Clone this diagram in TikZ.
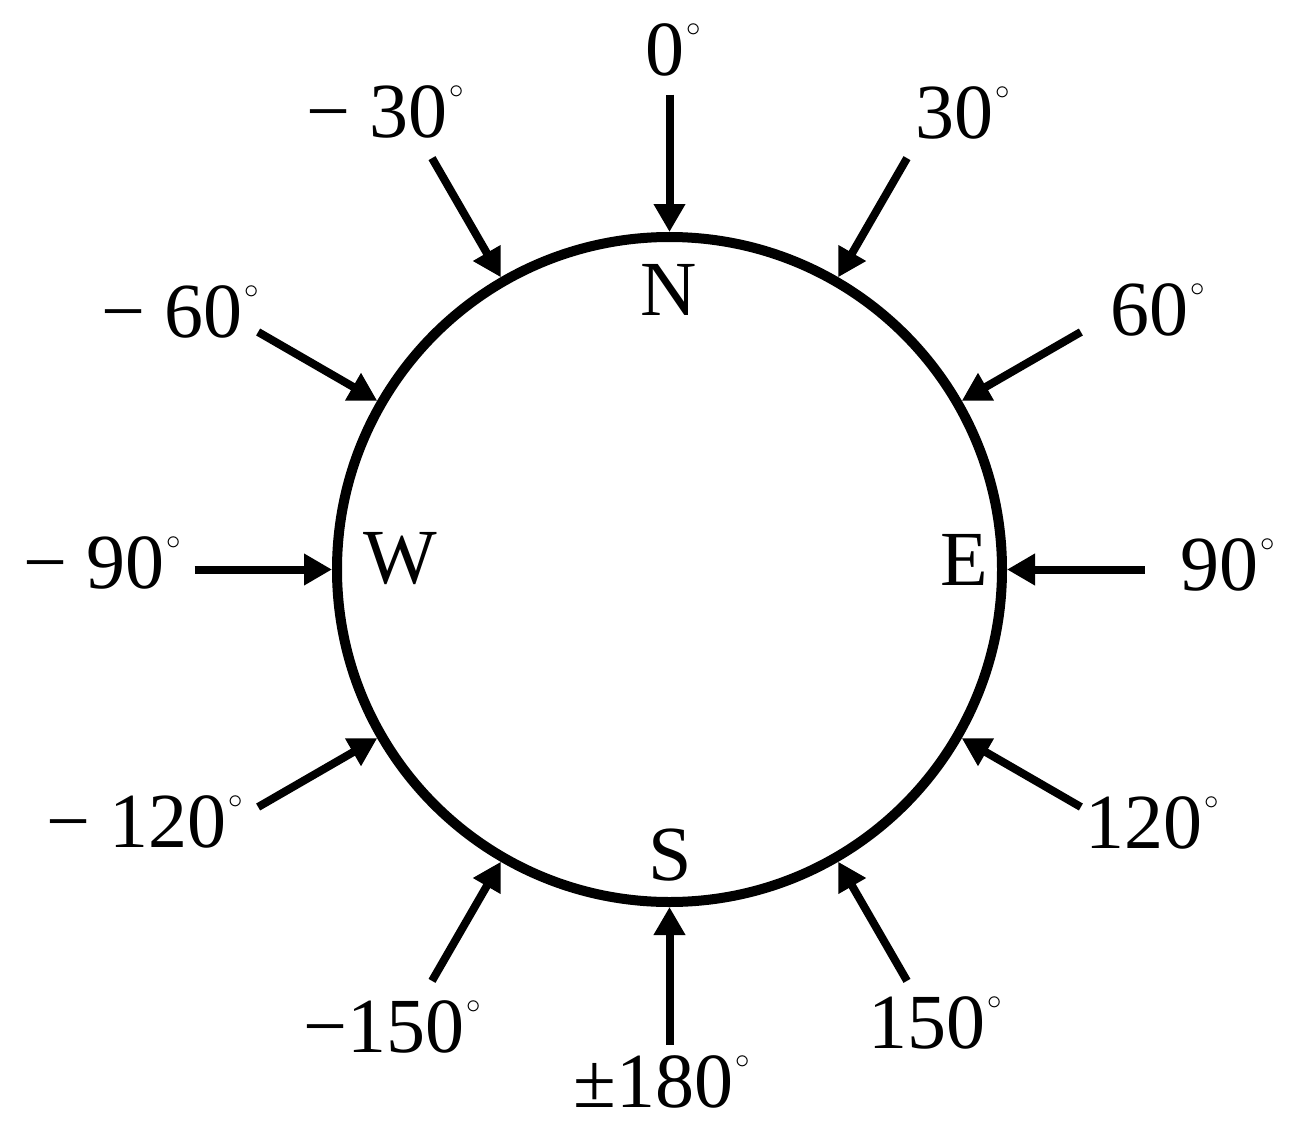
\documentclass[tikz,border=0pt]{standalone}
\usepackage{fontspec}
\setmainfont{Liberation Serif}
\usetikzlibrary{arrows.meta}
\newcommand\dg{\kern1pt\raisebox{0.5em}{\fontsize{14}{14}\selectfont$\circ$}}
\begin{document}
\begin{tikzpicture}[x=0.5pt,y=-0.5pt,
  lbl/.style={anchor=base west,inner sep=0pt,font=\fontsize{39}{46}\selectfont},
  ring/.style={circle,draw,line width=5pt,minimum size=332.5pt,inner sep=0pt},
  arr/.style={line width=4pt,-{Triangle[length=14pt,width=15pt]}}]
\useasboundingbox (0,0) rectangle (1296,1140);
\node[ring] (c) at (669.5,569.5) {};
% arrows (compass angle clockwise from north)
\foreach \n/\a in {a0/0,a30/30,a60/60,a90/90,a120/120,a150/150,a180/180,am150/-150,am120/-120,am90/-90,am60/-60,am30/-30}{
  \coordinate (\n) at ([shift={({90-\a}:237.5pt)}]c.center);
  \draw[arr] (\n) -- (c.{90-\a});
}
% labels
\node[lbl] (l0)    at (645,75)   {0\dg};
\node[lbl] (l30)   at (915,138)  {30\dg};
\node[lbl] (l60)   at (1110,335) {60\dg};
\node[lbl] (l90)   at (1180,590) {90\dg};
\node[lbl] (l120)  at (1085,848) {120\dg};
\node[lbl] (l150)  at (868,1048) {150\dg};
\node[lbl] (l180)  at (573,1107) {±180\dg};
\node[lbl] (lm150) at (303,1052) {−150\dg};
\node[lbl] (lm120) at (46,847)   {− 120\dg};
\node[lbl] (lm90)  at (23,588)   {− 90\dg};
\node[lbl] (lm60)  at (101,337)  {− 60\dg};
\node[lbl] (lm30)  at (306,137)  {− 30\dg};
% compass letters
\node[lbl] (N) at (640,315) {N};
\node[lbl] (E) at (940,585) {E};
\node[lbl] (W) at (363,583) {W};
\node[lbl] (S) at (648,880) {S};
\end{tikzpicture}
\end{document}
